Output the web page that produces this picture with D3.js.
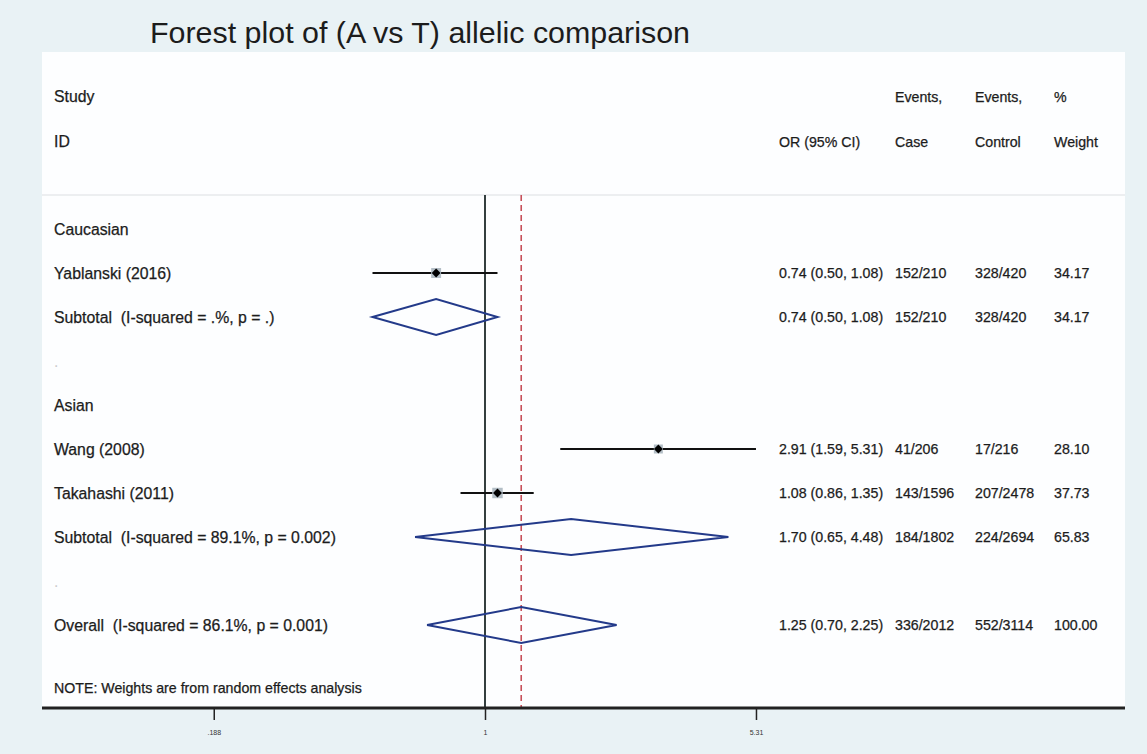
<!DOCTYPE html>
<meta charset="utf-8">
<html>
<script src="https://d3js.org/d3.v7.min.js"></script>
<body style="margin:0;background:#e9f2f5;">
<style>
    text { font-family: "Liberation Sans", Arial, sans-serif; fill: #1c1c1c; white-space: pre; }
    .lbl { font-size: 14.2px; stroke: #1c1c1c; stroke-width: 0.25px; }
    .big { font-size: 15.8px; }
    .tick text { font-size: 7px; }
</style>
<div id="chart"></div>
<script>

    // rows of the plot, top to bottom
    var rowLabels = ["Caucasian", "Yablanski (2016)", "Subtotal  (I-squared = .%, p = .)", ".",
                     "Asian", "Wang (2008)", "Takahashi (2011)", "Subtotal  (I-squared = 89.1%, p = 0.002)", ".",
                     "Overall  (I-squared = 86.1%, p = 0.001)"];
    var rowType = ["head", "study", "sub", "blank", "head", "study", "study", "sub", "blank", "sub"];
    var orVal  = [null, 0.74, 0.74, null, null, 2.91, 1.08, 1.70, null, 1.25];
    var ciLow  = [null, 0.50, 0.50, null, null, 1.59, 0.86, 0.65, null, 0.70];
    var ciHigh = [null, 1.08, 1.08, null, null, 5.31, 1.35, 4.48, null, 2.25];
    var orText = ["", "0.74 (0.50, 1.08)", "0.74 (0.50, 1.08)", "", "", "2.91 (1.59, 5.31)",
                  "1.08 (0.86, 1.35)", "1.70 (0.65, 4.48)", "", "1.25 (0.70, 2.25)"];
    var caseEv = ["", "152/210", "152/210", "", "", "41/206", "143/1596", "184/1802", "", "336/2012"];
    var ctrlEv = ["", "328/420", "328/420", "", "", "17/216", "207/2478", "224/2694", "", "552/3114"];
    var weight = ["", "34.17", "34.17", "", "", "28.10", "37.73", "65.83", "", "100.00"];
    var weightNum = [0, 34.17, 34.17, 0, 0, 28.10, 37.73, 65.83, 0, 100];
    var tickVals = [0.188, 1, 5.31];
    var tickLabels = [".188", "1", "5.31"];
    var overallOR = 1.25;

    var W = 1147, H = 754;
    var svg = d3.select("#chart").append("svg")
        .attr("width", W)
        .attr("height", H);

    // white panel
    svg.append("rect")
        .attr("x", 42).attr("y", 52)
        .attr("width", 1083).attr("height", 656)
        .attr("fill", "#fdfeff");

    // title
    svg.append("text")
        .attr("x", 150).attr("y", 43)
        .style("font-size", "30px")
        .attr("textLength", 540)
        .attr("lengthAdjust", "spacingAndGlyphs")
        .text("Forest plot of (A vs T) allelic comparison");

    // log x scale
    var x = d3.scaleLog()
        .domain([Math.exp(-443 / 162.3), Math.exp(640 / 162.3)])
        .range([42, 1125]);

    var y = d3.scaleLinear().domain([0, 1]).range([229, 273]);

    var top0 = 195, axisY = 708;

    // header separator
    svg.append("line")
        .attr("x1", 42).attr("x2", 1125)
        .attr("y1", top0).attr("y2", top0)
        .attr("stroke", "#dcdfe2").attr("stroke-width", 1);

    // headers
    var heads = [
        {x: 54, y: 97, t: "Study", c: "lbl big"}, {x: 54, y: 142, t: "ID", c: "lbl big"},
        {x: 779, y: 142, t: "OR (95% CI)", c: "lbl"},
        {x: 895, y: 97, t: "Events,", c: "lbl"}, {x: 895, y: 142, t: "Case", c: "lbl"},
        {x: 975, y: 97, t: "Events,", c: "lbl"}, {x: 975, y: 142, t: "Control", c: "lbl"},
        {x: 1054, y: 97, t: "%", c: "lbl"}, {x: 1054, y: 142, t: "Weight", c: "lbl"}
    ];
    svg.selectAll(".hd").data(heads).enter().append("text")
        .attr("class", function(d) { return d.c; })
        .attr("x", function(d) { return d.x; })
        .attr("y", function(d) { return d.y + 5; })
        .text(function(d) { return d.t; });

    // no-effect line
    svg.append("line")
        .attr("x1", x(1)).attr("x2", x(1))
        .attr("y1", top0).attr("y2", axisY)
        .attr("stroke", "#1e2a2a").attr("stroke-width", 1.8);

    // overall effect line
    svg.append("line")
        .attr("x1", x(overallOR)).attr("x2", x(overallOR))
        .attr("y1", top0).attr("y2", axisY)
        .attr("stroke", "#c8505a").attr("stroke-width", 1.6)
        .attr("stroke-dasharray", "6,4");

    var idx = d3.range(rowLabels.length);

    // row labels and columns
    svg.selectAll(".rl").data(idx).enter().append("text")
        .attr("class", "lbl big")
        .attr("x", 54)
        .attr("y", function(i) { return y(i) + 5.5; })
        .style("fill", function(i) { return rowType[i] == "blank" ? "#ccc" : "#1c1c1c"; })
        .style("stroke", function(i) { return rowType[i] == "blank" ? "none" : "#1c1c1c"; })
        .text(function(i) { return rowLabels[i]; });

    var cols = [{x: 779, v: orText}, {x: 895, v: caseEv}, {x: 975, v: ctrlEv}, {x: 1054, v: weight}];
    cols.forEach(function(c) {
        svg.selectAll(null).data(idx).enter().append("text")
            .attr("class", "lbl")
            .attr("x", c.x)
            .attr("y", function(i) { return y(i) + 5; })
            .text(function(i) { return c.v[i]; });
    });

    var studies = idx.filter(function(i) { return rowType[i] == "study"; });
    var subs = idx.filter(function(i) { return rowType[i] == "sub"; });

    // CI lines
    svg.selectAll(".ci").data(studies).enter().append("line")
        .attr("x1", function(i) { return x(ciLow[i]); })
        .attr("x2", function(i) { return x(ciHigh[i]); })
        .attr("y1", function(i) { return y(i); })
        .attr("y2", function(i) { return y(i); })
        .attr("stroke", "#111").attr("stroke-width", 2);

    // weight boxes
    svg.selectAll(".box").data(studies).enter().append("rect")
        .attr("x", function(i) { return x(orVal[i]) - Math.sqrt(weightNum[i]) * 0.85; })
        .attr("y", function(i) { return y(i) - Math.sqrt(weightNum[i]) * 0.85; })
        .attr("width", function(i) { return Math.sqrt(weightNum[i]) * 1.7; })
        .attr("height", function(i) { return Math.sqrt(weightNum[i]) * 1.7; })
        .attr("fill", "#b3bec6");

    // point markers
    svg.selectAll(".pt").data(studies).enter().append("path")
        .attr("d", d3.symbol().type(d3.symbolDiamond2).size(50))
        .attr("transform", function(i) { return "translate(" + x(orVal[i]) + "," + y(i) + ")"; })
        .attr("fill", "#000");

    // pooled diamonds
    svg.selectAll(".dia").data(subs).enter().append("path")
        .attr("d", function(i) {
            var yc = y(i), h = 18;
            return "M" + x(ciLow[i]) + "," + yc +
                   "L" + x(orVal[i]) + "," + (yc - h) +
                   "L" + x(ciHigh[i]) + "," + yc +
                   "L" + x(orVal[i]) + "," + (yc + h) + "Z";
        })
        .attr("fill", "none")
        .attr("stroke", "#233a8a").attr("stroke-width", 2);

    // note
    svg.append("text")
        .attr("class", "lbl")
        .attr("x", 54).attr("y", 693)
        .text("NOTE: Weights are from random effects analysis");

    // axis
    svg.append("line")
        .attr("x1", 42).attr("x2", 1125)
        .attr("y1", axisY).attr("y2", axisY)
        .attr("stroke", "#222").attr("stroke-width", 3);

    var axis = d3.axisBottom(x)
        .tickValues(tickVals)
        .tickFormat(function(d, i) { return tickLabels[i]; })
        .tickSize(12)
        .tickPadding(10);

    var ax = svg.append("g")
        .attr("transform", "translate(0," + axisY + ")")
        .call(axis);
    ax.select(".domain").remove();
    ax.selectAll(".tick line").attr("stroke", "#222").attr("stroke-width", 1.5);
    ax.selectAll(".tick text").style("fill", "#333");

</script>
</body>
</html>
